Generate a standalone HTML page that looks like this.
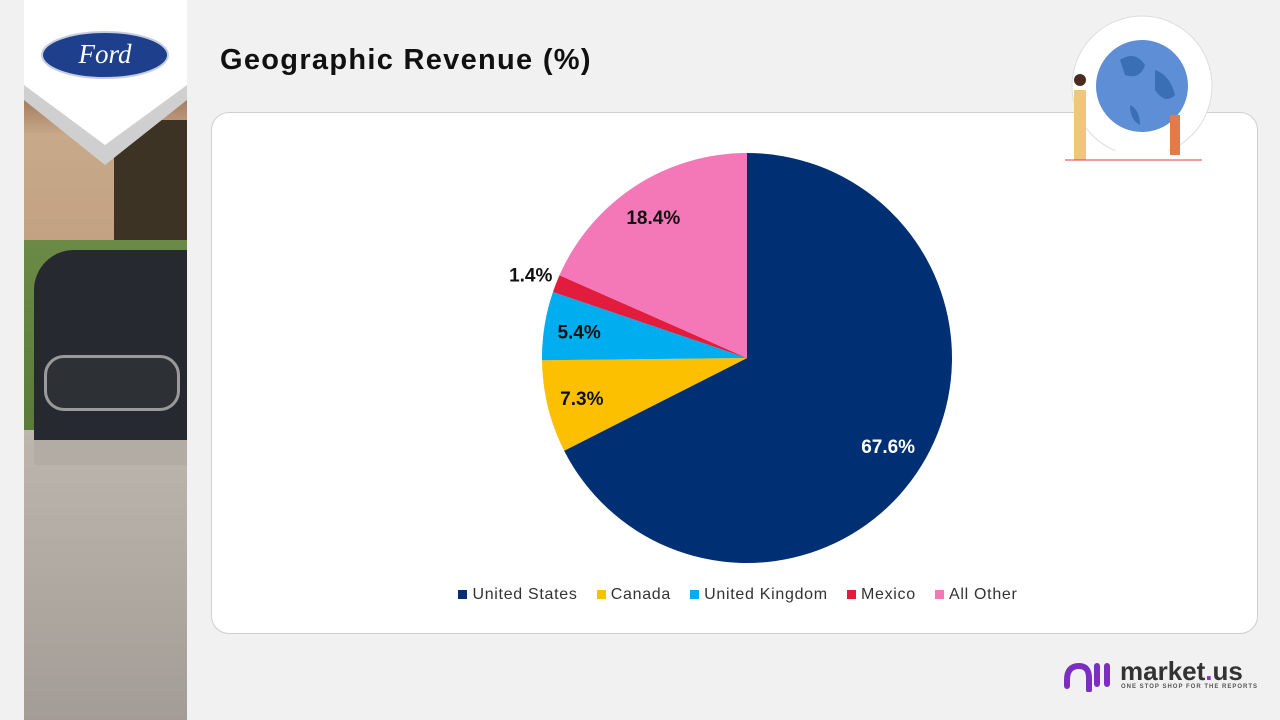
<!DOCTYPE html>
<html><head><meta charset="utf-8"><style>
body{margin:0;width:1280px;height:720px;background:#f1f1f1;position:relative;overflow:hidden;font-family:"Liberation Sans",sans-serif}
.side{position:absolute;left:24px;top:0;width:163px;height:720px;overflow:hidden;background:#c9c5bf}
.card{position:absolute;left:211px;top:112px;width:1045px;height:520px;background:#fff;border:1px solid #cfcfcf;border-radius:18px}
h1{position:absolute;left:220px;top:44px;margin:0;font-size:29px;font-weight:bold;color:#111;letter-spacing:1.3px}
.legend{position:absolute;left:198px;width:1080px;top:586px;text-align:center;font-size:16px;color:#333;letter-spacing:0.7px;white-space:nowrap}
.legend span{margin:0 7px}
.legend i{display:inline-block;width:9px;height:9px;margin-right:5px}
</style></head><body>
<div class="side">
 <div style="position:absolute;left:0;top:90px;width:163px;height:150px;background:linear-gradient(#9b6f55,#c8a98a 30%,#c2a282)"></div>
 <div style="position:absolute;left:90px;top:120px;width:73px;height:120px;background:#3d3325"></div>
 <div style="position:absolute;left:0;top:240px;width:163px;height:190px;background:linear-gradient(#6a8a45,#5b7b3a)"></div>
 <div style="position:absolute;left:0;top:430px;width:163px;height:290px;background:linear-gradient(#bdb6ad,#a39d97)"></div>
 <div style="position:absolute;left:10px;top:250px;width:153px;height:215px;background:#262a30;border-radius:40px 0 0 20px"></div>
 <div style="position:absolute;left:20px;top:355px;width:130px;height:50px;border:3px solid #9a9a9a;border-radius:20px;background:#2d3035"></div>
 <div style="position:absolute;left:10px;top:440px;width:153px;height:25px;background:#b2aca4"></div>
 <svg style="position:absolute;left:0;top:0" width="163" height="170"><polygon points="0,0 163,0 163,100 81,165 0,100" fill="#cfcfcf"/><polygon points="0,0 163,0 163,85 81,145 0,85" fill="#fff"/></svg>
 <svg style="position:absolute;left:16px;top:30px" width="130" height="50"><ellipse cx="65" cy="25" rx="63" ry="23" fill="#1e3f8c" stroke="#c7cde0" stroke-width="2"/><text x="65" y="33" font-family="Liberation Serif" font-style="italic" font-size="27" fill="#fff" text-anchor="middle">Ford</text></svg>
</div>
<h1>Geographic Revenue (%)</h1>
<div class="card"></div>
<svg style="position:absolute;left:1060px;top:10px" width="160" height="180">
 <circle cx="82" cy="76" r="70" fill="#fff" stroke="#ddd"/><polygon points="55,140 109,140 82,178" fill="#fff"/>
 <circle cx="82" cy="76" r="46" fill="#5e8fd6"/><path d="M60,50 q15,-10 25,5 q-5,15 -20,10z M95,60 q15,5 20,25 q-10,10 -20,-5z M70,95 q10,5 10,20 q-10,-5 -10,-20z" fill="#3a6fb5"/>
 <rect x="14" y="80" width="12" height="70" fill="#f0c77a"/><circle cx="20" cy="70" r="6" fill="#4a2b20"/><rect x="110" y="105" width="10" height="40" fill="#e37a4a"/>
 <line x1="5" y1="150" x2="142" y2="150" stroke="#e03c3c"/>
</svg>
<svg id="pie" style="position:absolute;left:0;top:0" width="1280" height="720"></svg>
<div class="legend">
 <span><i style="background:#003073"></i>United States</span>
 <span><i style="background:#fcc000"></i>Canada</span>
 <span><i style="background:#00aeef"></i>United Kingdom</span>
 <span><i style="background:#e31c3d"></i>Mexico</span>
 <span><i style="background:#f477b8"></i>All Other</span>
</div>
<div style="position:absolute;left:1063px;top:658px">
 <svg width="50" height="34" style="position:absolute;left:0;top:0"><path d="M4,28 v-6 q0,-14 12,-14 q10,0 10,12 v12 M34,26 v-18 M44,26 v-18" stroke="#7a2fc0" stroke-width="6" fill="none" stroke-linecap="round"/></svg>
 <div style="position:absolute;left:57px;top:-2px;font-size:26px;font-weight:bold;color:#333;white-space:nowrap">market<span style="color:#8a2fd0">.</span>us</div>
 <div style="position:absolute;left:58px;top:26px;font-size:6px;font-weight:bold;color:#555;letter-spacing:1px;white-space:nowrap">ONE STOP SHOP FOR THE REPORTS</div>
</div>
<script>
const categories=["United States","Canada","United Kingdom","Mexico","All Other"];
const values=[67.6,7.3,5.4,1.4,18.4];
const labels=["67.6%","7.3%","5.4%","1.4%","18.4%"];
const colors=["#003073","#fcc000","#00aeef","#e31c3d","#f477b8"];
const svg=document.getElementById('pie');const NS="http://www.w3.org/2000/svg";
const cx=747,cy=358,R=205;const total=values.reduce((a,b)=>a+b,0);
function pt(a,r){return [cx+r*Math.sin(a),cy-r*Math.cos(a)];}
let acc=0;
values.forEach((v,i)=>{
 const a0=acc/total*2*Math.PI;acc+=v;const a1=acc/total*2*Math.PI;
 const p0=pt(a0,R),p1=pt(a1,R);
 const path=document.createElementNS(NS,'path');
 path.setAttribute('d',`M${cx},${cy} L${p0[0]},${p0[1]} A${R},${R} 0 ${a1-a0>Math.PI?1:0} 1 ${p1[0]},${p1[1]} Z`);
 path.setAttribute('fill',colors[i]);
 
 
 svg.appendChild(path);
 const am=(a0+a1)/2;const lp=pt(am,v/total<0.03?230:168);
 const t=document.createElementNS(NS,'text');
 t.setAttribute('x',lp[0]-2);t.setAttribute('y',lp[1]+7);t.setAttribute('text-anchor','middle');
 t.setAttribute('font-size','19');t.setAttribute('font-weight','bold');
 t.setAttribute('font-family','Liberation Sans, sans-serif');
 t.setAttribute('fill',i===0?'#fff':'#111');
 
 
 t.textContent=labels[i];svg.appendChild(t);
});
</script>
</body></html>
